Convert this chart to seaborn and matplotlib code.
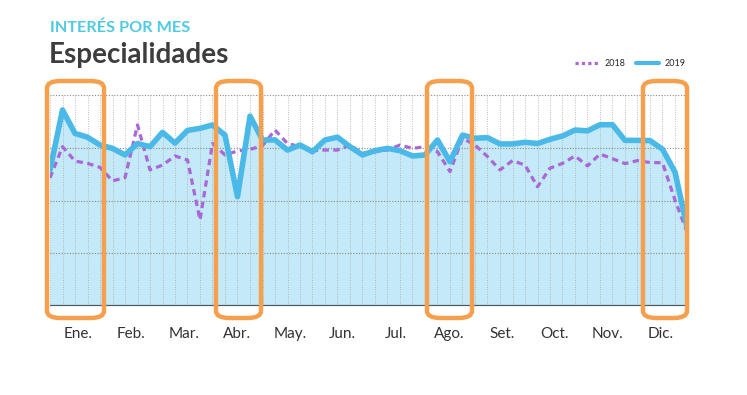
import numpy as np
import pandas as pd
import matplotlib
matplotlib.use("Agg")
import matplotlib.pyplot as plt
import seaborn as sns
from matplotlib.patches import FancyBboxPatch
from matplotlib.lines import Line2D

# weekly interest index, 52 weeks
values_2019 = [64.5, 92.9, 81.8, 80.0, 76.3, 74.7, 71.6, 77.0, 75.5, 82.3,
               77.2, 83.2, 84.2, 85.8, 81.0, 51.8, 90.0, 78.7, 78.7, 73.9,
               76.3, 73.1, 78.7, 80.0, 75.5, 71.6, 73.6, 74.7, 73.6, 71.1,
               71.6, 78.7, 68.4, 81.0, 79.5, 79.8, 76.8, 76.8, 77.6, 77.0,
               79.0, 80.6, 83.4, 83.0, 85.9, 85.9, 78.5, 78.5, 78.4, 74.3,
               63.5, 36.5]
values_2018 = [60.7, 75.5, 68.7, 67.6, 65.7, 59.3, 60.8, 85.8, 64.5, 66.8,
               71.1, 69.2, 40.8, 77.0, 71.6, 73.5, 74.2, 76.0, 83.4, 77.0,
               75.5, 73.6, 73.9, 73.9, 76.3, 72.4, 73.1, 73.9, 76.3, 74.7,
               75.5, 73.1, 63.7, 79.5, 76.3, 70.8, 64.5, 68.9, 66.8, 56.5,
               65.3, 67.6, 71.1, 66.4, 72.0, 69.8, 67.5, 68.9, 68.0, 67.9,
               50.2, 34.5]
months = ["Ene.", "Feb.", "Mar.", "Abr.", "May.", "Jun.", "Jul.", "Ago.",
          "Set.", "Oct.", "Nov.", "Dic."]
weeks = list(range(len(values_2019)))

df = pd.DataFrame({"semana": weeks, "2018": values_2018, "2019": values_2019})

sns.set_style("white")
plt.rcParams["font.family"] = ["Lato", "DejaVu Sans"]

fig = plt.figure(figsize=(7.47, 3.95), dpi=100)
ax = fig.add_axes([50 / 747, 1 - 306 / 395, 637.5 / 747, 211 / 395])

blue = "#4ab9e8"
purple = "#a967d8"

ax.fill_between(df["semana"], 0, df["2019"], color="#c4e9f8", zorder=1, lw=0)
sns.lineplot(data=df, x="semana", y="2018", ax=ax, color=purple, lw=2.3,
             zorder=4)
ax.lines[-1].set_linestyle((0, (2.0, 1.4)))
sns.lineplot(data=df, x="semana", y="2019", ax=ax, color=blue, lw=4,
             zorder=5)

ax.set_xlim(0, len(weeks) - 1)
ax.set_ylim(0, 100)
for w in weeks:
    ax.axvline(w, color="#aaaaaa", lw=0.6, ls=(0, (1, 1.8)), zorder=2)
for v in [25, 50, 75, 100]:
    ax.axhline(v, color="#8a8a8a", lw=0.8, ls=(0, (1, 1.5)), zorder=2)
ax.axhline(0, color="#555555", lw=1.6, zorder=6)

ax.set_xticks(np.linspace(2.25, 48.85, 12))
ax.set_xticklabels(months, fontsize=11, color="#333333")
ax.tick_params(axis="x", length=0, pad=15)
ax.set_yticks([])
ax.set_xlabel("")
ax.set_ylabel("")
for s in ax.spines.values():
    s.set_visible(False)

fig.text(50 / 747, 1 - 32 / 395, "INTERÉS POR MES", fontsize=11.7,
         color="#4fcae3", fontweight="bold")
fig.text(49 / 747, 1 - 63 / 395, "Especialidades", fontsize=20,
         color="#3d3d3d", fontweight="bold")

handles = [Line2D([], [], color=purple, lw=2.3, ls=(0, (1.0, 1.0))),
           Line2D([], [], color=blue, lw=3)]
fig.legend(handles, ["2018", "2019"], loc="center right",
           bbox_to_anchor=(694 / 747, 1 - 64 / 395), ncol=2, frameon=False,
           fontsize=6.5, handlelength=2.6, columnspacing=1.2, handletextpad=0.6)

# highlight boxes
for x0, x1 in [(47, 104), (216, 261), (427, 472), (643, 687)]:
    box = FancyBboxPatch((x0 / 747, 1 - 318 / 395), (x1 - x0) / 747,
                         237 / 395, boxstyle="round,pad=0,rounding_size=0.018",
                         transform=fig.transFigure, fill=False,
                         ec="#f6a04d", lw=3.2, zorder=10)
    fig.add_artist(box)

plt.savefig("out.png", dpi=100)
